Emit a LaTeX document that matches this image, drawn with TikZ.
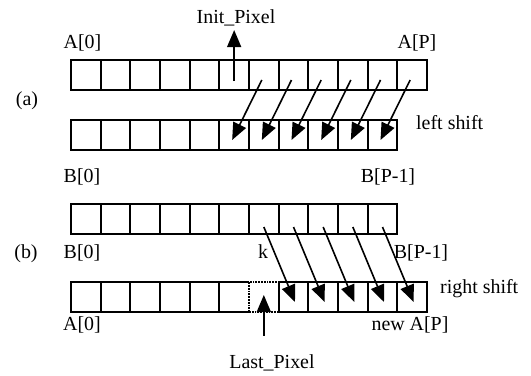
\documentclass[tikz,border=0pt]{standalone}
\usepackage{fontspec}
\setmainfont{Liberation Serif}
\usetikzlibrary{arrows.meta, positioning}

\begin{document}
\begin{tikzpicture}[
    x=1bp, y=1bp,
    cell/.style  ={draw, line width=1.8bp, minimum width=29.67bp, minimum height=30bp,
                   inner sep=0pt, outer sep=0pt},
    gone/.style  ={cell, densely dotted},
    open/.style  ={cell, draw=none},
    lbl/.style   ={inner sep=2bp, font=\fontsize{20}{22}\selectfont},
    arrow/.style ={-{Triangle[length=17bp, width=14bp]}, line width=1.6bp},
]
\useasboundingbox (0,0) rectangle (531,375);

% ── (a): rows A and B ───────────────────────────────────────────────────
\node[cell] (a0) at (85.8,300) {};
\foreach \i [count=\j] in {0,...,10}
  \node[cell, right=0pt of a\i] (a\j) {};
\node[cell] (b0) at (85.8,240) {};
\foreach \i [count=\j] in {0,...,9}
  \node[cell, right=0pt of b\i] (b\j) {};

% ── (b): rows B and new A ───────────────────────────────────────────────
\node[cell] (bb0) at (85.8,156) {};
\foreach \i [count=\j] in {0,...,9}
  \node[cell, right=0pt of bb\i] (bb\j) {};
\node[cell] (na0) at (85.8,78) {};
\foreach \i [count=\j] in {0,...,10} {
  \ifnum\j=5 \def\sty{open}\else\ifnum\j=6 \def\sty{gone}\else\def\sty{cell}\fi\fi
  \node[\sty, right=0pt of na\i] (na\j) {};
}
\draw[line width=1.8bp] (na5.north west) -- (na5.north east)
                        (na5.south west) -- (na5.south east);

% ── Labels ──────────────────────────────────────────────────────────────
\node[lbl, anchor=base] (init)  at (236,351.7) {Init\_Pixel};
\node[lbl, anchor=base] (a0lbl) at (82.5,327)  {A[0]};
\node[lbl, anchor=base] (aplbl) at (417,327)   {A[P]};
\node[lbl, anchor=base] (tagA)  at (27,270)    {(a)};
\node[lbl, anchor=base west] (lsh) at (414,245.7) {left shift};
\node[lbl, anchor=base] (b0lbl) at (82,192.5)  {B[0]};
\node[lbl, anchor=base] (bplbl) at (388,192.5) {B[P-1]};

\node[lbl, anchor=base] (tagB)  at (26,117)    {(b)};
\node[lbl, anchor=base] (bb0lbl) at (82,117)   {B[0]};
\node[lbl, anchor=base] (klbl)  at (263,117)   {k};
\node[lbl, anchor=base] (bbplbl) at (421,117)  {B[P-1]};
\node[lbl, anchor=base west] (rsh) at (438,82) {right shift};
\node[lbl, anchor=base] (na0lbl) at (82,45)    {A[0]};
\node[lbl, anchor=base] (naplbl) at (410,45)   {new A[P]};
\node[lbl, anchor=base] (last)  at (272,7)     {Last\_Pixel};

% ── Arrows ──────────────────────────────────────────────────────────────
\draw[arrow, shorten >=2bp] ([yshift=-6bp]a5.center) -- (a5.center |- init.south);
\foreach \i [evaluate=\i as \j using int(\i-1)] in {6,...,11}
  \draw[arrow] ([xshift=-2bp, yshift=-5bp]a\i.center) -- ([xshift=-2bp, yshift=-5bp]b\j.center);
\foreach \i [evaluate=\i as \j using int(\i+1)] in {6,...,10}
  \draw[arrow] ([yshift=-8bp]bb\i.center) -- ([xshift=1.5bp, yshift=-5bp]na\j.center);
\draw[arrow, shorten <=16bp] (na6.center |- last.north) -- ([yshift=2bp]na6.center);

\end{tikzpicture}
\end{document}
